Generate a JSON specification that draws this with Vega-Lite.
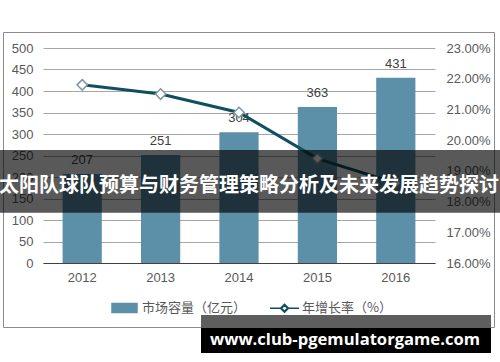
{
  "$schema": "https://vega.github.io/schema/vega-lite/v6.json",
  "width": 392,
  "height": 215,
  "autosize": {"type": "none"},
  "padding": {"left": 43, "top": 48, "right": 65, "bottom": 99},
  "background": "white",
  "title": {
    "text": "太阳队球队预算与财务管理策略分析及未来发展趋势探讨",
    "font": "Noto Sans CJK SC",
    "fontSize": 20,
    "fontWeight": "bold",
    "color": "white",
    "anchor": "middle",
    "frame": "group",
    "baseline": "middle",
    "offset": 0,
    "dx": 10,
    "dy": 174
  },
  "data": {
    "values": [
      {"year": "2012", "value": 207, "rate": 0.218},
      {"year": "2013", "value": 251, "rate": 0.215},
      {"year": "2014", "value": 304, "rate": 0.209},
      {"year": "2015", "value": 363, "rate": 0.194},
      {"year": "2016", "value": 431, "rate": 0.186}
    ]
  },
  "layer": [
    {
      "data": {"values": [{"d": 1}]},
      "mark": {"type": "rect", "fill": "transparent", "stroke": "#8c8c8c", "strokeWidth": 1},
      "encoding": {
        "x": {"value": -39.5},
        "x2": {"value": 451.5},
        "y": {"value": -15.5},
        "y2": {"value": 279.5}
      }
    },
    {
      "encoding": {
        "x": {
          "field": "year",
          "type": "nominal",
          "scale": {"paddingInner": 0.5, "paddingOuter": 0.25},
          "axis": {
            "title": null,
            "labelAngle": 0,
            "domain": true,
            "domainColor": "#404040",
            "domainWidth": 1,
            "ticks": false,
            "labelPadding": 8,
            "grid": false
          }
        },
        "y": {
          "field": "value",
          "type": "quantitative",
          "scale": {"domain": [0, 500], "nice": false},
          "axis": {
            "title": null,
            "values": [0, 50, 100, 150, 200, 250, 300, 350, 400, 450, 500],
            "tickCount": 20,
            "labelOverlap": false,
            "grid": true,
            "gridColor": "#a6a6a6",
            "domain": false,
            "ticks": false,
            "labelPadding": 10
          }
        }
      },
      "layer": [
        {
          "mark": {"type": "bar"},
          "encoding": {
            "color": {
              "datum": "市场容量（亿元）",
              "scale": {
                "domain": ["市场容量（亿元）", "年增长率（%）"],
                "range": ["#5b90a8", "#0f4f5f"]
              },
              "legend": {
                "orient": "none",
                "legendX": 68,
                "legendY": 246.5,
                "direction": "horizontal",
                "title": null,
                "labelFont": "Noto Sans CJK SC",
                "labelFontSize": 13,
                "labelColor": "#595959",
                "labelOffset": 4,
                "columnPadding": 20,
                "symbolSize": 625,
                "symbolStrokeWidth": 1.5,
                "encode": {
                  "symbols": {
                    "update": {
                      "shape": {"signal": "datum.value === '市场容量（亿元）' ? 'M-1,-0.36H1V0.36H-1Z' : 'M-1.16,0H-0.32M0.32,0H1.16M0,-0.32L0.32,0L0,0.32L-0.32,0ZM0,-0.24L-0.24,0L0,0.24L0.24,0Z'"},
                      "fill": {"signal": "datum.value === '市场容量（亿元）' ? '#5b90a8' : 'white'"},
                      "stroke": {"signal": "datum.value === '市场容量（亿元）' ? 'transparent' : '#0f4f5f'"},
                      "strokeWidth": {"value": 1.5},
                      "size": {"value": 625},
                      "opacity": {"value": 1}
                    }
                  }
                }
              }
            }
          }
        },
        {
          "mark": {"type": "text", "baseline": "bottom", "dy": -7, "font": "Liberation Sans", "fontSize": 13, "color": "#404040"},
          "encoding": {
            "text": {"field": "value", "type": "quantitative"}
          }
        }
      ]
    },
    {
      "encoding": {
        "x": {"field": "year", "type": "nominal"},
        "y": {
          "field": "rate",
          "type": "quantitative",
          "scale": {"domain": [0.16, 0.23], "nice": false, "zero": false},
          "axis": {
            "orient": "right",
            "title": null,
            "values": [0.16, 0.17, 0.18, 0.19, 0.2, 0.21, 0.22, 0.23],
            "tickCount": 20,
            "labelOverlap": false,
            "format": ".2%",
            "grid": false,
            "domain": false,
            "ticks": false,
            "labelPadding": 11
          }
        }
      },
      "layer": [
        {
          "mark": {"type": "line", "strokeWidth": 3},
          "encoding": {
            "color": {"datum": "年增长率（%）"}
          }
        },
        {
          "mark": {"type": "point", "shape": "diamond", "filled": true, "fill": "white", "stroke": "#7d9aa4", "strokeWidth": 1.5, "size": 110, "opacity": 1}
        }
      ]
    },
    {
      "data": {"values": [{"d": 1}]},
      "mark": {"type": "rect", "fill": "black", "opacity": 0.65},
      "encoding": {
        "x": {"value": -43},
        "x2": {"value": 457},
        "y": {"value": 102},
        "y2": {"value": 164.7}
      }
    },
    {
      "data": {"values": [{"d": 1}]},
      "mark": {"type": "rect", "fill": "#5e5e5e"},
      "encoding": {
        "x": {"value": 158},
        "x2": {"value": 448},
        "y": {"value": 267},
        "y2": {"value": 280}
      }
    },
    {
      "data": {"values": [{"d": 1}]},
      "mark": {"type": "rect", "fill": "black"},
      "encoding": {
        "x": {"value": 158},
        "x2": {"value": 448},
        "y": {"value": 280},
        "y2": {"value": 305}
      }
    },
    {
      "data": {"values": [{"t": "www.club-pgemulatorgame.com"}]},
      "mark": {"type": "text", "font": "Open Sans", "fontWeight": "bold", "fontSize": 16.6, "color": "white", "align": "center", "baseline": "alphabetic"},
      "encoding": {
        "x": {"value": 302},
        "y": {"value": 297},
        "text": {"field": "t", "type": "nominal"}
      }
    }
  ],
  "resolve": {"scale": {"y": "independent"}},
  "config": {
    "view": {"stroke": null},
    "axis": {"labelFont": "Liberation Sans", "labelFontSize": 13, "labelColor": "#595959", "labelOverlap": false}
  }
}
